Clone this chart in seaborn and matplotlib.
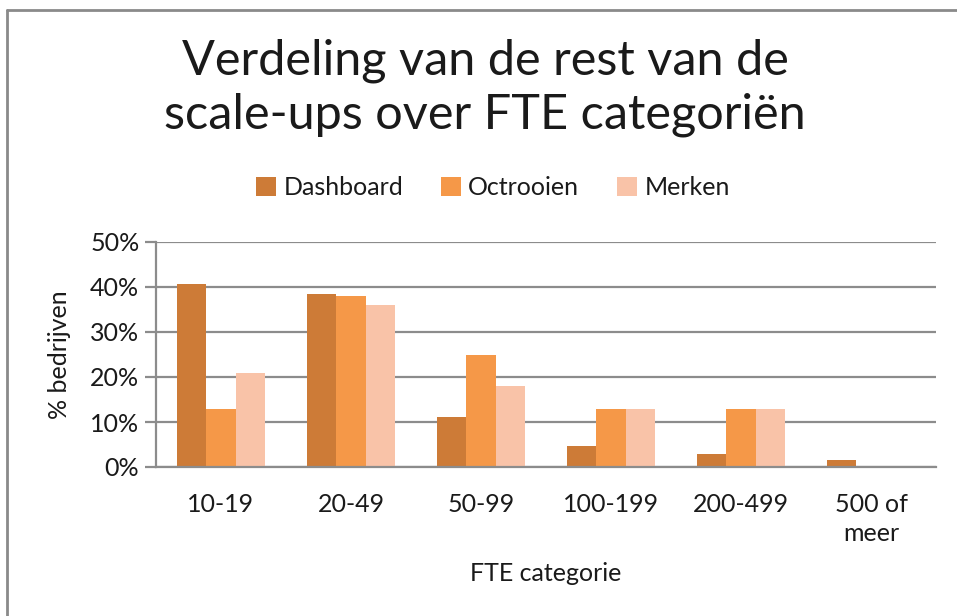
import pandas as pd
import matplotlib
matplotlib.use("Agg")
import matplotlib.pyplot as plt
from matplotlib.lines import Line2D
from matplotlib.patches import Patch
import seaborn as sns

categories = ["10-19", "20-49", "50-99", "100-199", "200-499", "500 of\nmeer"]
series = ["Dashboard", "Octrooien", "Merken"]
dashboard = [40.7, 38.4, 11.1, 4.7, 3.0, 1.6]
octrooien = [13.0, 37.9, 24.9, 13.0, 13.0, 0.0]
merken = [20.9, 35.9, 18.0, 13.0, 13.0, 0.0]
colors = ["#CD7B37", "#F59848", "#F9C3A8"]

rows = []
for name, vals in zip(series, [dashboard, octrooien, merken]):
    for cat, v in zip(categories, vals):
        rows.append({"categorie": cat, "reeks": name, "waarde": v})
df = pd.DataFrame(rows)

sns.set_style("white")
plt.rcParams["font.family"] = ["Lato", "DejaVu Sans"]
grid_col = "#8c8c8c"
txt_col = "#1a1a1a"
fs = 18

fig = plt.figure(figsize=(9.57, 6.16), dpi=100)
ax = fig.add_axes([156 / 957, 1 - 467 / 616, 780 / 957, 225 / 616])

sns.barplot(data=df, x="categorie", y="waarde", hue="reeks", order=categories,
            hue_order=series, palette=colors, width=0.67, ax=ax,
            edgecolor="none", legend=False, saturation=1)

ax.set_ylim(0, 50)
ax.set_xlim(-0.5, len(categories) - 0.5)
ax.set_yticks(range(0, 51, 10))
ax.set_yticklabels([f"{t}%" for t in range(0, 51, 10)])
ax.yaxis.grid(True, color=grid_col, lw=1.6)
ax.set_axisbelow(True)
for side in ["top", "right"]:
    ax.spines[side].set_visible(False)
for side in ["left", "bottom"]:
    ax.spines[side].set_color(grid_col)
    ax.spines[side].set_linewidth(1.6)

# category boundary ticks on the x axis
ax.set_xticks([i - 0.5 for i in range(len(categories) + 1)], minor=True)
ax.set_xticks(range(len(categories)))
ax.set_xticklabels(categories, linespacing=1.3)
ax.tick_params(axis="x", which="major", length=0, pad=19, labelsize=fs, labelcolor=txt_col)
ax.tick_params(axis="x", which="minor", length=8, width=1.6, color=grid_col, direction="out")
ax.tick_params(axis="y", length=8, width=1.6, color=grid_col, labelsize=fs,
               labelcolor=txt_col, pad=4, left=True)

ax.set_xlabel("FTE categorie", fontsize=fs, color=txt_col, labelpad=12)
ax.set_ylabel("% bedrijven", fontsize=fs, color=txt_col, labelpad=14)

fig.text(0.507, 0.857, "Verdeling van de rest van de\nscale-ups over FTE categoriën",
         ha="center", va="center", fontsize=35, color=txt_col, linespacing=1.27)

handles = [Patch(facecolor=c, edgecolor="none") for c in colors]
fig.legend(handles, series, loc="center", bbox_to_anchor=(0.515, 0.695), ncol=3,
           frameon=False, fontsize=fs, handlelength=0.8, handleheight=0.8,
           handletextpad=0.3, columnspacing=1.5, labelcolor=txt_col)

# chart frame (left and top edges visible)
fig.add_artist(Line2D([7.5 / 957, 7.5 / 957], [0, 1 - 9.5 / 616], color="#8a8a8a",
                      lw=2, transform=fig.transFigure))
fig.add_artist(Line2D([6.5 / 957, 1], [1 - 9.5 / 616, 1 - 9.5 / 616], color="#8a8a8a",
                      lw=2, transform=fig.transFigure))

fig.savefig("out.png", dpi=100)
